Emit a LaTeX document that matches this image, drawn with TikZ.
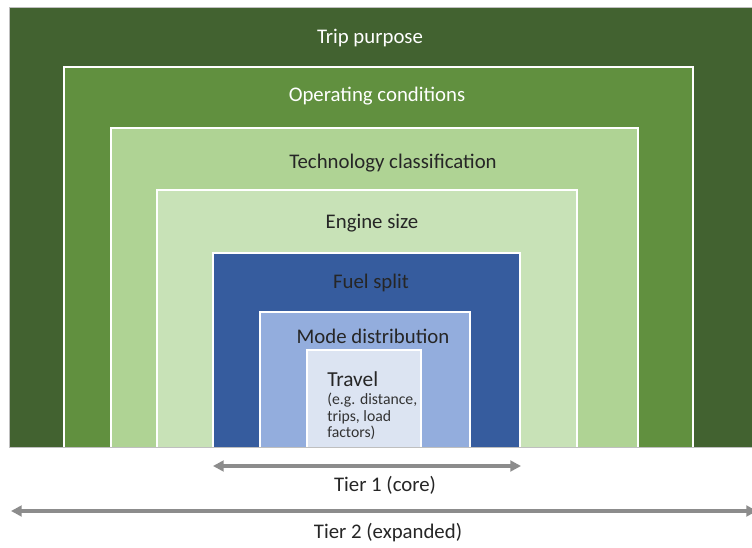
\documentclass[tikz,border=0pt]{standalone}
\usepackage{fontspec}
\setmainfont{Carlito}
\usetikzlibrary{arrows.meta}
\definecolor{cA}{HTML}{426230}
\definecolor{cB}{HTML}{61903F}
\definecolor{cC}{HTML}{AFD394}
\definecolor{cD}{HTML}{C8E2B7}
\definecolor{cE}{HTML}{365C9E}
\definecolor{cF}{HTML}{93ADDD}
\definecolor{cG}{HTML}{DCE4F2}
\definecolor{arr}{HTML}{8C8C8C}
\begin{document}
\begin{tikzpicture}[x=0.75pt,y=-0.75pt,
  layer/.style={draw=white,line width=1.2pt},
  lab/.style={font=\fontsize{15.6}{18}\selectfont},
  tier/.style={arr,line width=2.6pt,{Triangle[length=8pt,width=8pt]}-{Triangle[length=8pt,width=8pt]}},
  tlab/.style={text=black!85,font=\fontsize{15.6}{18}\selectfont}]
\useasboundingbox (0,0) rectangle (752,548);
\fill[white] (0,0) rectangle (752,548);
\draw[fill=cA,draw=black!25,line width=0.6pt] (9,7) rectangle (753,447);
\draw[layer,fill=cB] (64,67) rectangle (693,448);
\draw[layer,fill=cC] (111,128) rectangle (638,448);
\draw[layer,fill=cD] (157,190) rectangle (577,448);
\draw[layer,fill=cE] (213,253) rectangle (520,448);
\draw[layer,fill=cF] (260,312) rectangle (470,448);
\draw[layer,fill=cG] (307,350) rectangle (421,448);
\draw[black!25,line width=0.8pt] (9,447.5) -- (752,447.5);
\node[lab,text=white] (trip) at (370,38.5) {Trip purpose};
\node[lab,text=white] (oper) at (377,96.5) {Operating conditions};
\node[lab,text=black!85] (tech) at (393,163.5) {Technology classification};
\node[lab,text=black!85] (eng) at (372,223.5) {Engine size};
\node[lab,text=black!85] (fuel) at (371,282.5) {Fuel split};
\node[lab,text=black!85] (mode) at (373,336.5) {Mode distribution};
\node[anchor=west,inner sep=0pt,font=\fontsize{16}{18}\selectfont,text=black!85] (trav) at (327,379) {Travel};
\node[anchor=north west,inner sep=0pt,align=left,font=\fontsize{11.8}{12.2}\selectfont,text=black!80] (eg) at (327,393) {(e.g. distance,\\trips, load\\factors)};
\coordinate (t1a) at (213,466);
\coordinate (t1b) at (521,466);
\draw[tier] (t1a) -- (t1b);
\node[tlab] (t1) at (385,485) {Tier 1 (core)};
\coordinate (t2a) at (11,511);
\coordinate (t2b) at (757,511);
\draw[tier] (t2a) -- (t2b);
\node[tlab] (t2) at (388,533) {Tier 2 (expanded)};
\end{tikzpicture}
\end{document}
